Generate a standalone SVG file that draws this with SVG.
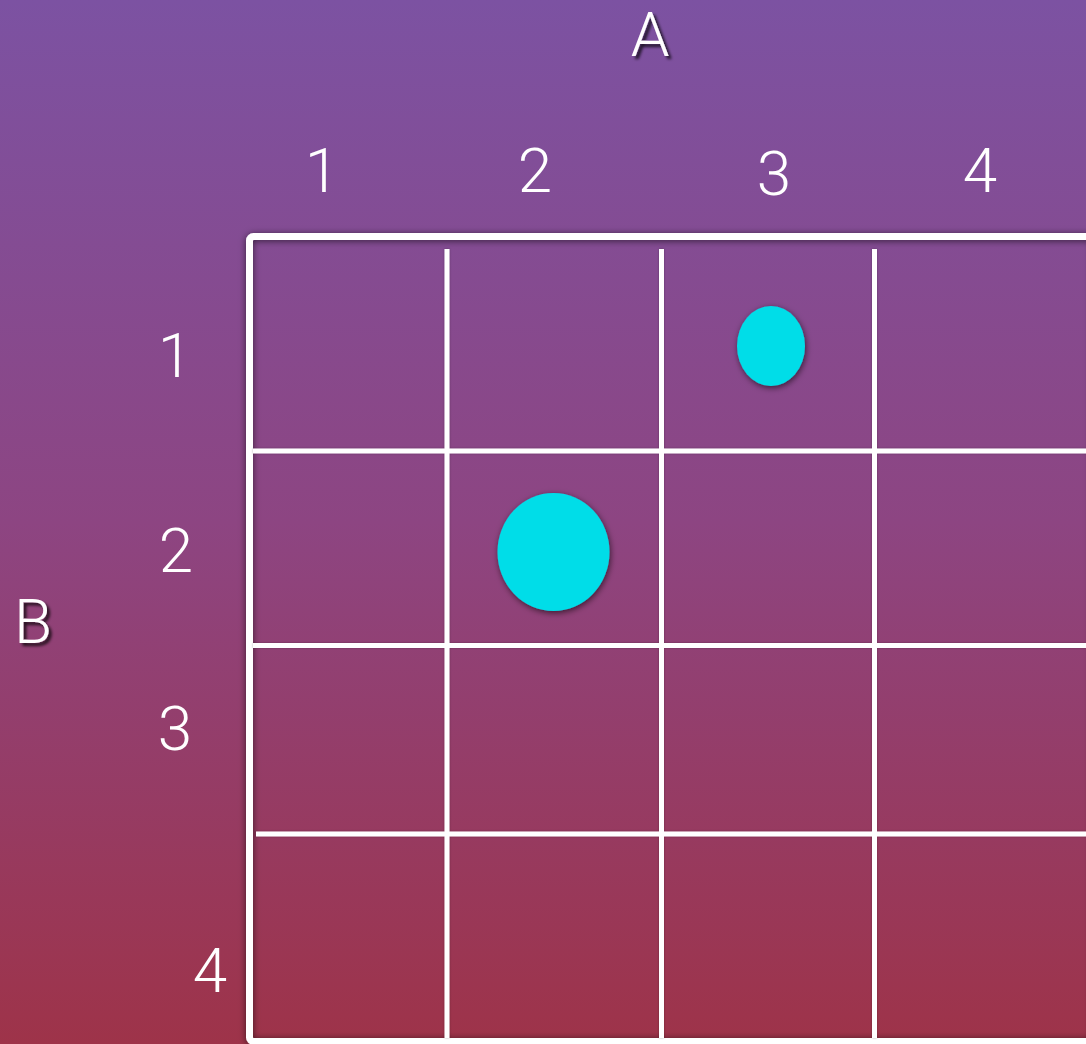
<svg xmlns="http://www.w3.org/2000/svg" width="1086" height="1044" viewBox="0 0 1086 1044">
  <defs>
    <linearGradient id="bg" x1="0" y1="0" x2="0" y2="1">
      <stop offset="0" stop-color="#7c52a2"/>
      <stop offset="0.5" stop-color="#8d4582"/>
      <stop offset="1" stop-color="#9e3349"/>
    </linearGradient>
    <filter id="glow" filterUnits="userSpaceOnUse" x="0" y="0" width="1086" height="1044">
      <feDropShadow dx="0" dy="1" stdDeviation="3.5" flood-color="#000" flood-opacity="0.6"/>
    </filter>
    <filter id="lineShadow" filterUnits="userSpaceOnUse" x="0" y="0" width="1086" height="1044">
      <feDropShadow dx="0" dy="0" stdDeviation="1" flood-color="#000" flood-opacity="0.3"/>
    </filter>
    <filter id="dotShadow" x="-30%" y="-30%" width="160%" height="160%">
      <feDropShadow dx="1" dy="2" stdDeviation="3" flood-color="#000" flood-opacity="0.6"/>
    </filter>
    <filter id="textShadow" filterUnits="userSpaceOnUse" x="0" y="0" width="1086" height="1044">
      <feDropShadow dx="3" dy="3" stdDeviation="1.5" flood-color="#000" flood-opacity="0.75"/>
    </filter>
  </defs>
  <style>
    .lbl { font-family: Roboto, "Liberation Sans", sans-serif; font-weight: 300; font-size: 62px; fill: #ffffff; text-anchor: middle; }
    .axis { filter: url(#textShadow); }
    .grid { stroke: #ffffff; stroke-width: 5; fill: none; }
    .frame { stroke: #ffffff; stroke-width: 7; fill: none; filter: url(#glow); }
    .dot { fill: #00dde8; filter: url(#dotShadow); }
  </style>
  <rect x="0" y="0" width="1086" height="1044" fill="url(#bg)"/>

  <g id="axis-labels">
    <text class="lbl axis" x="650" y="56">A</text>
    <text class="lbl axis" x="33" y="643">B</text>
  </g>

  <g id="column-labels">
    <text class="lbl" x="322" y="192">1</text>
    <text class="lbl" x="535" y="192">2</text>
    <text class="lbl" x="774" y="195">3</text>
    <text class="lbl" x="980" y="192">4</text>
  </g>

  <g id="row-labels">
    <text class="lbl" x="175" y="377">1</text>
    <text class="lbl" x="176" y="572">2</text>
    <text class="lbl" x="175" y="750">3</text>
    <text class="lbl" x="210" y="992">4</text>
  </g>

  <g id="grid">
    <rect id="frame" class="frame" x="249.5" y="236.5" width="845" height="805" rx="4"/>
    <g id="grid-lines" filter="url(#lineShadow)">
      <line class="grid" x1="447" y1="249" x2="447" y2="1038"/>
      <line class="grid" x1="661.5" y1="249" x2="661.5" y2="1038"/>
      <line class="grid" x1="874.5" y1="249" x2="874.5" y2="1038"/>
      <line class="grid" x1="253" y1="451" x2="1086" y2="451"/>
      <line class="grid" x1="253" y1="645.5" x2="1086" y2="645.5"/>
      <line class="grid" x1="256" y1="834" x2="1086" y2="834"/>
    </g>
  </g>

  <g id="dot-small">
    <ellipse class="dot" cx="771" cy="346" rx="34" ry="40"/>
  </g>
  <g id="dot-large">
    <ellipse class="dot" cx="553.5" cy="552" rx="56" ry="59"/>
  </g>
</svg>
